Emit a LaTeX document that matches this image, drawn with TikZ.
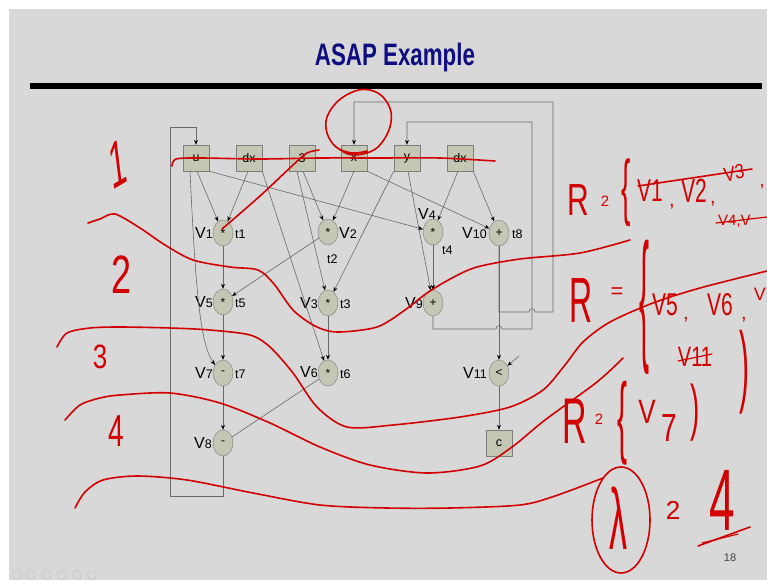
\documentclass[tikz,border=0pt]{standalone}
\usepackage{fontspec}
\setmainfont{Liberation Sans}
\newfontfamily\titlefont[FakeStretch=0.72]{Liberation Sans}
\usetikzlibrary{shapes.geometric,arrows.meta}
\definecolor{slidebg}{RGB}{216,216,216}
\definecolor{nodefill}{RGB}{196,199,180}
\definecolor{nodeedge}{RGB}{125,125,125}
\definecolor{edgegray}{RGB}{105,105,105}
\definecolor{titleblue}{RGB}{14,14,128}
\definecolor{inkred}{RGB}{210,0,0}
\newcommand\hwfont[1]{\fontsize{#1}{#1}\selectfont}
\newcommand\Vlab[1]{{\hwfont{16}V}{\hwfont{12.5}#1}}
\newcommand\Tlab[1]{{\hwfont{12.5}t#1}}
\begin{document}
\begin{tikzpicture}[x=1pt,y=-1pt,
  opbox/.style={rectangle, draw=nodeedge, fill=nodefill, minimum width=26pt, minimum height=26pt, inner sep=0pt, font=\hwfont{12.5}},
  opell/.style={ellipse, draw=nodeedge, fill=nodefill, minimum width=20pt, minimum height=26pt, inner sep=0pt, font=\hwfont{12}},
  edge/.style={draw=edgegray, line width=0.6pt, -{Stealth[length=5pt,width=4pt,color=black]}},
  wire/.style={draw=edgegray, line width=0.6pt},
  lab/.style={inner sep=0pt},
  redstroke/.style={draw=inkred, line width=1.6pt, line cap=round, line join=round},
  hw/.style={text=inkred, inner sep=0pt}]
\useasboundingbox (0,0) rectangle (767,580);
\fill[white] (0,0) rectangle (767,580);
\fill[slidebg] (9,9) rectangle (767,580);
% title and bar
\node[lab, anchor=base, text=titleblue, font=\titlefont\bfseries\hwfont{31}] (title) at (395,66) {ASAP Example};
\fill[black] (30,83) rectangle (762,89);
% page number and nav icons
\node[lab, font=\hwfont{11}, text=black!75] (pg) at (730,558) {18};
\foreach \cx in {17,31,47,62,77,92} \draw[black!22, line width=0.6pt] (\cx,575) circle[radius=4.5];
% operand boxes
\node[opbox] (bu) at (196,158) {u};
\node[opbox] (bdx1) at (249,158) {dx};
\node[opbox] (b3) at (302,158) {3};
\node[opbox] (bx) at (354,158) {x};
\node[opbox] (by) at (407,158) {y};
\node[opbox] (bdx2) at (460,158) {dx};
\node[opbox] (bc) at (499,443) {c};
% operations
\node[opell] (v1) at (223,233) {*};
\node[opell] (v2) at (328,232) {*};
\node[opell] (v4) at (433,232) {*};
\node[opell] (v10) at (499,233) {+};
\node[opell] (v5) at (223,302) {*};
\node[opell] (v3) at (328,303) {*};
\node[opell] (v9) at (433,303) {+};
\node[opell] (v7) at (223,373) {-};
\node[opell] (v6) at (328,373) {*};
\node[opell] (v11) at (499,373) {<};
\node[opell] (v8) at (223,443) {-};
% labels
\node[lab, anchor=base east] (l1) at (213,238) {\Vlab{1}};
\node[lab, anchor=base west] (lt1) at (235,238) {\Tlab{1}};
\node[lab, anchor=base west] (l2) at (339,238) {\Vlab{2}};
\node[lab, anchor=base west] (lt2) at (327,263) {\Tlab{2}};
\node[lab, anchor=base west] (l4) at (418,219) {\Vlab{4}};
\node[lab, anchor=base west] (lt4) at (442,254) {\Tlab{4}};
\node[lab, anchor=base east] (l10) at (487,238) {\Vlab{10}};
\node[lab, anchor=base west] (lt8) at (512,238) {\Tlab{8}};
\node[lab, anchor=base east] (l5) at (213,307) {\Vlab{5}};
\node[lab, anchor=base west] (lt5) at (235,307) {\Tlab{5}};
\node[lab, anchor=base east] (l3) at (318,308) {\Vlab{3}};
\node[lab, anchor=base west] (lt3) at (340,308) {\Tlab{3}};
\node[lab, anchor=base east] (l9) at (423,308) {\Vlab{9}};
\node[lab, anchor=base east] (l7) at (213,378) {\Vlab{7}};
\node[lab, anchor=base west] (lt7) at (235,378) {\Tlab{7}};
\node[lab, anchor=base east] (l6) at (318,377) {\Vlab{6}};
\node[lab, anchor=base west] (lt6) at (340,378) {\Tlab{6}};
\node[lab, anchor=base east] (l11) at (487,378) {\Vlab{11}};
\node[lab, anchor=base east] (l8) at (212,448) {\Vlab{8}};
% input edges
\draw[edge] ([xshift=1pt]bu.south) -- (v1);
\draw[edge] ([xshift=-1pt]bdx1.south) -- (v1);
\draw[edge] (bu.south east) -- (v4);
\draw[edge] ([xshift=-6pt]bu.south) .. controls (196,300) and (201,345) .. (v7.135);
\draw[edge] (bdx1.south east) -- (v6);
\draw[edge] ([xshift=-5pt]b3.south) -- (v3);
\draw[edge] ([xshift=1pt]b3.south) -- (v2);
\draw[edge] (bx.south) -- (v2);
\draw[edge] (bx.south east) -- (v10);
\draw[edge] (by.south west) -- (v3);
\draw[edge] ([xshift=1pt]by.south) -- (v9);
\draw[edge] ([xshift=-2pt]bdx2.south) -- (v4);
\draw[edge] (bdx2.south east) -- (v10);
% internal edges
\draw[edge] (v1) -- (v5);
\draw[edge] (v2) -- (v5);
\draw[edge] (v4) -- (v9);
\draw[edge] (v3) -- (v6);
\draw[edge] (v5) -- (v7);
\draw[edge] (v7) -- (v8);
\draw[wire] (v6) -- (v8);
\draw[edge] (v10) -- (v11);
\draw[edge] (v11) -- (bc);
\coordinate (ain) at (519,356);
\draw[edge] (ain) -- (v11);
% feedback loops
\draw[edge] (v8.south) -- (223,496) -- (170,496) -- (170,127) -- (196,127) -- (bu.north);
\draw[edge] (v10.south) -- (499,312) -- (529,312) .. controls (529,307.5) and (535,307.5) .. (535,312) -- (553,312) -- (553,102) -- (354,102) -- (bx.north);
\draw[edge] (v9.south) -- (433,329) -- (496,329) .. controls (496,324.5) and (502,324.5) .. (502,329) -- (532,329) -- (532,122) -- (407,122) -- (by.north);
% ===== red handwriting =====
\draw[redstroke] plot[smooth, tension=0.5] coordinates {(172,166) (176,159) (200,158) (260,159) (320,158) (380,158) (440,158) (495,161)};
\draw[redstroke] plot[smooth, tension=0.5] coordinates {(222,229) (260,196) (293,165) (307,153) (319,150)};
\draw[redstroke] plot[smooth, tension=0.6] coordinates {(335,146) (348,154) (363,154) (378,147) (389,130) (391,112) (383,97) (370,90) (355,91) (338,101) (327,117) (327,133) (336,147) (352,153) (367,151)};
\draw[redstroke] plot[smooth, tension=0.5] coordinates {(88,223) (100,219) (115,214) (140,228) (165,245) (193,260) (230,267) (258,270) (274,284) (293,310) (315,326) (337,332) (377,327) (405,310) (427,293) (452,278) (477,267) (520,259) (580,253) (630,240)};
\draw[redstroke] plot[smooth, tension=0.5] coordinates {(57,347) (67,333) (90,328) (120,327) (170,328) (210,330) (250,335) (270,347) (293,373) (317,407) (347,427) (393,425) (460,417) (510,407) (543,390) (565,365) (583,342) (610,322) (653,303) (700,288) (767,271)};
\draw[redstroke] plot[smooth, tension=0.5] coordinates {(65,420) (80,405) (100,398) (120,395) (170,393) (220,403) (270,423) (320,447) (370,465) (427,473) (480,466) (512,447) (545,420) (597,382) (623,358)};
\draw[redstroke] plot[smooth, tension=0.5] coordinates {(75,508) (85,492) (103,480) (137,476) (187,480) (253,493) (320,505) (387,508) (450,508) (520,505) (555,496) (603,478)};
% left level numbers
\node[hw, font=\hwfont{30}, yscale=2.2, rotate=15] (n1) at (118,164) {1};
\node[hw, font=\hwfont{36}, yscale=1.5] (n2) at (122,275) {2};
\node[hw, font=\hwfont{26}, yscale=1.3] (n3) at (100,357) {3};
\node[hw, font=\hwfont{28}, yscale=1.6] (n4) at (116,431) {4};
% row 1
\node[hw, font=\hwfont{30}, yscale=1.5] (r1R) at (578,200) {R};
\node[hw, font=\hwfont{15}] (r1e) at (605,201) {2};
\node[hw, font=\hwfont{28}, yscale=2.6] (r1b) at (626,193) {\{};
\node[hw, font=\hwfont{21}, yscale=1.5] (r1a) at (650,191) {V1};
\node[hw, font=\hwfont{20}] (r1c1) at (672,207) {,};
\node[hw, font=\hwfont{21}, yscale=1.6] (r1d) at (694,191) {V2};
\node[hw, font=\hwfont{20}] (r1c2) at (713,204) {,};
\node[hw, font=\hwfont{17}, yscale=1.2, rotate=10] (r1f) at (734,173) {V3};
\node[hw, font=\hwfont{18}] (r1c3) at (762,187) {,};
\node[hw, font=\hwfont{15}, anchor=west] (r1g) at (718,221) {V4,V};
\draw[redstroke] (638,186) -- (752,169);
\draw[redstroke, line width=1.2pt] (716,223) -- (767,217);
% row 2
\node[hw, font=\hwfont{32}, yscale=2] (r2R) at (581,300) {R};
\node[hw, font=\hwfont{22}] (r2e) at (617,293) {=};
\node[hw, font=\hwfont{30}, yscale=4.8] (r2b) at (644,307) {\{};
\node[hw, font=\hwfont{21}, yscale=1.5] (r2a) at (665,305) {V5};
\node[hw, font=\hwfont{20}] (r2c1) at (686,320) {,};
\node[hw, font=\hwfont{21}, yscale=1.5] (r2d) at (720,305) {V6};
\node[hw, font=\hwfont{20}] (r2c2) at (744,320) {,};
\node[hw, font=\hwfont{18}, anchor=east] (r2f) at (766,294) {V};
\node[hw, font=\hwfont{20}, yscale=1.4] (r2g) at (695,357) {V11};
\draw[redstroke, line width=1.2pt] (678,361) -- (712,354);
\node[hw, font=\hwfont{30}, yscale=3] (r2p) at (744,372) {)};
% row 3
\node[hw, font=\hwfont{34}, yscale=1.9] (r3R) at (575,421) {R};
\node[hw, font=\hwfont{15}] (r3e) at (599,419) {2};
\node[hw, font=\hwfont{30}, yscale=3] (r3b) at (622,423) {\{};
\node[hw, font=\hwfont{26}, yscale=1.3] (r3V) at (647,412) {V};
\node[hw, font=\hwfont{28}, yscale=1.4] (r3s) at (669,428) {7};
\node[hw, font=\hwfont{28}, yscale=2.2] (r3p) at (695,413) {)};
% row 4
\draw[redstroke] (621,520) ellipse[x radius=29, y radius=53];
\node[hw, font=\hwfont{36}, yscale=2.4] (lam) at (618,518) {λ};
\node[hw, font=\hwfont{26}] (eq4) at (673,510) {2};
\node[hw, font=\hwfont{46}, yscale=1.9] (four) at (722,500) {4};
\draw[redstroke] (698,546) -- (750,527);
\draw[redstroke, line width=1.2pt] (702,543) -- (738,534);
\end{tikzpicture}
\end{document}
